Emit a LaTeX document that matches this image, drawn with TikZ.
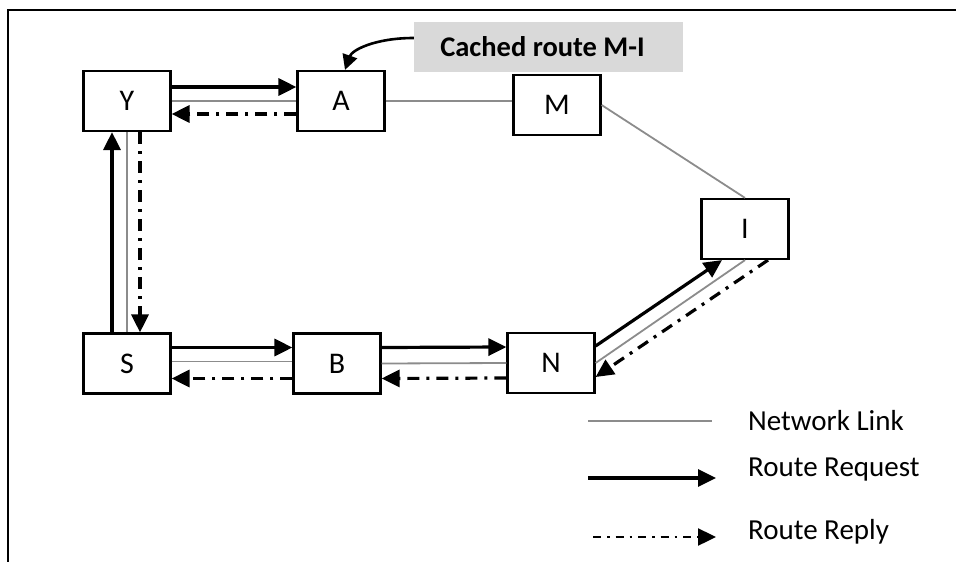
\documentclass[tikz,border=0pt]{standalone}
\usepackage{fontspec}
\setmainfont{Carlito}
\usetikzlibrary{arrows.meta}
\definecolor{linkgray}{RGB}{140,140,140}
\definecolor{labelgray}{RGB}{217,217,217}
\begin{document}
\begin{tikzpicture}[x=1pt,y=-1pt,
  nodebox/.style={draw=black,line width=2.2pt,minimum width=87pt,minimum height=60pt,inner sep=0pt,font=\fontsize{30}{32}\selectfont},
  link/.style={draw=linkgray,line width=1.8pt},
  req/.style={draw=black,line width=3.2pt,-{Triangle[length=18pt,width=17pt]}},
  rep/.style={draw=black,line width=3.2pt,dash pattern=on 12pt off 7pt on 3pt off 7pt,-{Triangle[length=18pt,width=17pt]}},
  legtext/.style={anchor=west,inner sep=0pt,font=\fontsize{29}{32}\selectfont}]
\useasboundingbox (0,0) rectangle (956,562);
% frame
\draw[line width=2.2pt] (8,562) -- (8,10) -- (956,10);
% nodes
\node[nodebox] (Y) at (127,101) {Y};
\node[nodebox] (A) at (341,101) {A};
\node[nodebox] (M) at (557,105) {M};
\node[nodebox] (I) at (745,229) {I};
\node[nodebox] (S) at (127,363.5) {S};
\node[nodebox] (B) at (337,363.5) {B};
\node[nodebox] (N) at (551,363) {N};
\node[fill=labelgray,minimum width=269pt,minimum height=50pt,inner sep=0pt,font=\bfseries\fontsize{28.5}{32}\selectfont] (C) at (548.5,47) {\hspace*{-12pt}Cached route M-I};
% links
\draw[link] (Y.east) -- (A.west);
\draw[link] (A.east) -- (M.west |- A.east);
\draw[link] (M.east) -- (I.north);
\draw[link] (Y.south) -- (S.north);
\draw[link] ([yshift=2pt]S.east) -- ([yshift=2pt]B.west);
\draw[link] ([yshift=0pt]B.east) -- ([yshift=0pt]N.west);
\draw[link] (N.east) -- (I.south);
% requests
\draw[req] ([yshift=14pt]Y.east) -- ([yshift=14pt]A.west);
\draw[req] ([xshift=-15pt]S.north) -- ([xshift=-15pt]Y.south);
\draw[req] ([yshift=16pt]S.east) -- ([yshift=16pt]B.west);
\draw[req] ([yshift=16pt]B.east) -- ([yshift=16pt]N.west);
\draw[req] ([yshift=17pt]N.east) -- ([xshift=-23pt]I.south);
% replies
\draw[rep] ([yshift=-13pt]A.west) -- ([yshift=-13pt]Y.east);
\draw[rep] ([xshift=13pt]Y.south) -- ([xshift=13pt]S.north);
\draw[rep] ([yshift=-15pt]B.west) -- ([yshift=-15pt]S.east);
\draw[rep] ([yshift=-15pt]N.west) -- ([yshift=-15pt]B.east);
\draw[rep] ([xshift=23pt]I.south) -- ([yshift=-14pt]N.east);
% cached route arrow
\draw[line width=2.6pt,-{Triangle[length=15pt,width=15pt]}] (C.west |- 0,38) .. controls (375,38) and (352,50) .. ([xshift=4pt]A.north);
% legend
\coordinate (l1a) at (588,421); \coordinate (l1b) at (712,421);
\coordinate (l2a) at (588,478); \coordinate (l2b) at (716,478);
\coordinate (l3a) at (593,537); \coordinate (l3b) at (716,537);
\draw[link] (l1a) -- (l1b);
\draw[req] (l2a) -- (l2b);
\draw[rep,line width=2.4pt,dash pattern=on 8pt off 6pt on 2.5pt off 6pt] (l3a) -- (l3b);
\node[legtext] (t1) at (748,421) {Network Link};
\node[legtext] (t2) at (748,470) {Route Request};
\node[legtext] (t3) at (748,532) {Route Reply};
\end{tikzpicture}
\end{document}
